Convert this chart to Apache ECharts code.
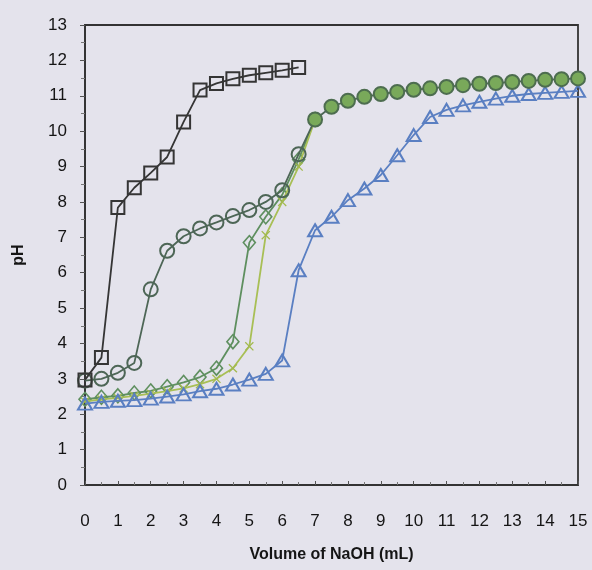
<!DOCTYPE html>
<html>
<head>
<meta charset="utf-8">
<script src="https://cdn.jsdelivr.net/npm/echarts@6/dist/echarts.min.js"></script>
<style>
  html, body { margin: 0; padding: 0; background: #e4e3ec; }
  #chart { width: 592px; height: 570px; }
</style>
</head>
<body>
<div id="chart"></div>
<script>
// Volume of NaOH added (mL)
const volume = [0, 0.5, 1, 1.5, 2, 2.5, 3, 3.5, 4, 4.5, 5, 5.5, 6, 6.5, 7,
                7.5, 8, 8.5, 9, 9.5, 10, 10.5, 11, 11.5, 12, 12.5, 13, 13.5, 14, 14.5, 15];

// Titration curves (pH)
const phSquare = [2.97, 3.6, 7.84, 8.4, 8.82, 9.27, 10.26, 11.16, 11.35, 11.48, 11.58, 11.65, 11.72, 11.8];
const phCircle = [2.95, 3.0, 3.17, 3.45, 5.53, 6.62, 7.03, 7.25, 7.42, 7.6, 7.77, 8.0, 8.33, 9.35, 10.33,
                  10.69, 10.86, 10.97, 11.05, 11.11, 11.17, 11.21, 11.25, 11.3, 11.34, 11.36, 11.39, 11.42, 11.45, 11.47, 11.49];
const phDiamond = [2.42, 2.48, 2.52, 2.6, 2.66, 2.78, 2.9, 3.05, 3.3, 4.05, 6.85, 7.58, 8.2, 9.2, 10.33];
const phCross = [2.36, 2.42, 2.46, 2.52, 2.58, 2.65, 2.73, 2.85, 3.0, 3.3, 3.92, 7.06, 8.0, 9.0, 10.33];
const phTriangle = [2.3, 2.35, 2.38, 2.4, 2.44, 2.5, 2.56, 2.65, 2.72, 2.84, 2.98, 3.14, 3.52, 6.07, 7.2,
                    7.58, 8.05, 8.38, 8.76, 9.32, 9.89, 10.4, 10.6, 10.73, 10.83, 10.92, 11.0, 11.05, 11.08, 11.11, 11.14];

// Circle markers past this volume are drawn filled
const circleFillFrom = 7;

const pairs = (ys) => ys.map((y, i) => [volume[i], y]);

const crossPath = 'path://M0,1 L1,0 L5,4 L9,0 L10,1 L6,5 L10,9 L9,10 L5,6 L1,10 L0,9 L4,5 Z';

const circleData = phCircle.map((y, i) => {
  const item = { value: [volume[i], y] };
  if (volume[i] >= circleFillFrom) {
    item.itemStyle = { color: '#79a95a', borderColor: '#4d6d4f' };
  }
  return item;
});

const chart = echarts.init(document.getElementById('chart'), null, { renderer: 'canvas' });

const axisText = { color: '#151515', fontFamily: 'Liberation Sans, Arial, sans-serif', fontSize: 17 };

chart.setOption({
  backgroundColor: '#e4e3ec',
  animation: false,
  grid: {
    left: 85, right: 14, top: 25, bottom: 85,
    show: true, borderColor: '#333', borderWidth: 1.8, backgroundColor: 'transparent'
  },
  xAxis: {
    type: 'value', min: 0, max: 15, interval: 1,
    name: 'Volume of NaOH (mL)', nameLocation: 'middle', nameGap: 62,
    nameTextStyle: { color: '#151515', fontFamily: 'Liberation Sans, Arial, sans-serif', fontSize: 16, fontWeight: 'bold' },
    axisLine: { show: true, lineStyle: { color: '#333', width: 1.8 } },
    axisTick: { show: true, inside: true, length: 4, lineStyle: { color: '#555' } },
    minorTick: { show: true, splitNumber: 2, length: 3, lineStyle: { color: '#777' } },
    axisLabel: Object.assign({ margin: 28 }, axisText),
    splitLine: { show: false }
  },
  yAxis: {
    type: 'value', min: 0, max: 13, interval: 1,
    name: 'pH', nameLocation: 'middle', nameGap: 58, nameRotate: 90,
    nameTextStyle: { color: '#151515', fontFamily: 'Liberation Sans, Arial, sans-serif', fontSize: 16, fontWeight: 'bold' },
    axisLine: { show: true, lineStyle: { color: '#333', width: 1.8 } },
    axisTick: { show: true, inside: false, length: 5, lineStyle: { color: '#555' } },
    minorTick: { show: true, splitNumber: 2, length: 4, lineStyle: { color: '#777' } },
    axisLabel: Object.assign({ margin: 18 }, axisText),
    splitLine: { show: false }
  },
  series: [
    {
      type: 'line', data: pairs(phDiamond), clip: false, z: 2,
      symbol: 'diamond', symbolSize: [12, 14],
      lineStyle: { color: '#5e8f5f', width: 1.8 },
      itemStyle: { color: 'transparent', borderColor: '#5e8f5f', borderWidth: 1.6 }
    },
    {
      type: 'line', data: pairs(phCross), clip: false, z: 3,
      symbol: crossPath, symbolSize: 9,
      lineStyle: { color: '#a8bf55', width: 1.8 },
      itemStyle: { color: '#a2b94e' }
    },
    {
      type: 'line', data: pairs(phTriangle), clip: false, z: 4,
      symbol: 'triangle', symbolSize: [14, 12],
      lineStyle: { color: '#5a7fc2', width: 1.8 },
      itemStyle: { color: 'transparent', borderColor: '#5a7fc2', borderWidth: 2 }
    },
    {
      type: 'line', data: circleData, clip: false, z: 5,
      symbol: 'circle', symbolSize: 14,
      lineStyle: { color: '#4d6656', width: 1.8 },
      itemStyle: { color: 'transparent', borderColor: '#4d6656', borderWidth: 2 }
    },
    {
      type: 'line', data: pairs(phSquare), clip: false, z: 6,
      symbol: 'rect', symbolSize: 13,
      lineStyle: { color: '#353535', width: 1.8 },
      itemStyle: { color: 'transparent', borderColor: '#353535', borderWidth: 2 }
    }
  ]
});
</script>
</body>
</html>
